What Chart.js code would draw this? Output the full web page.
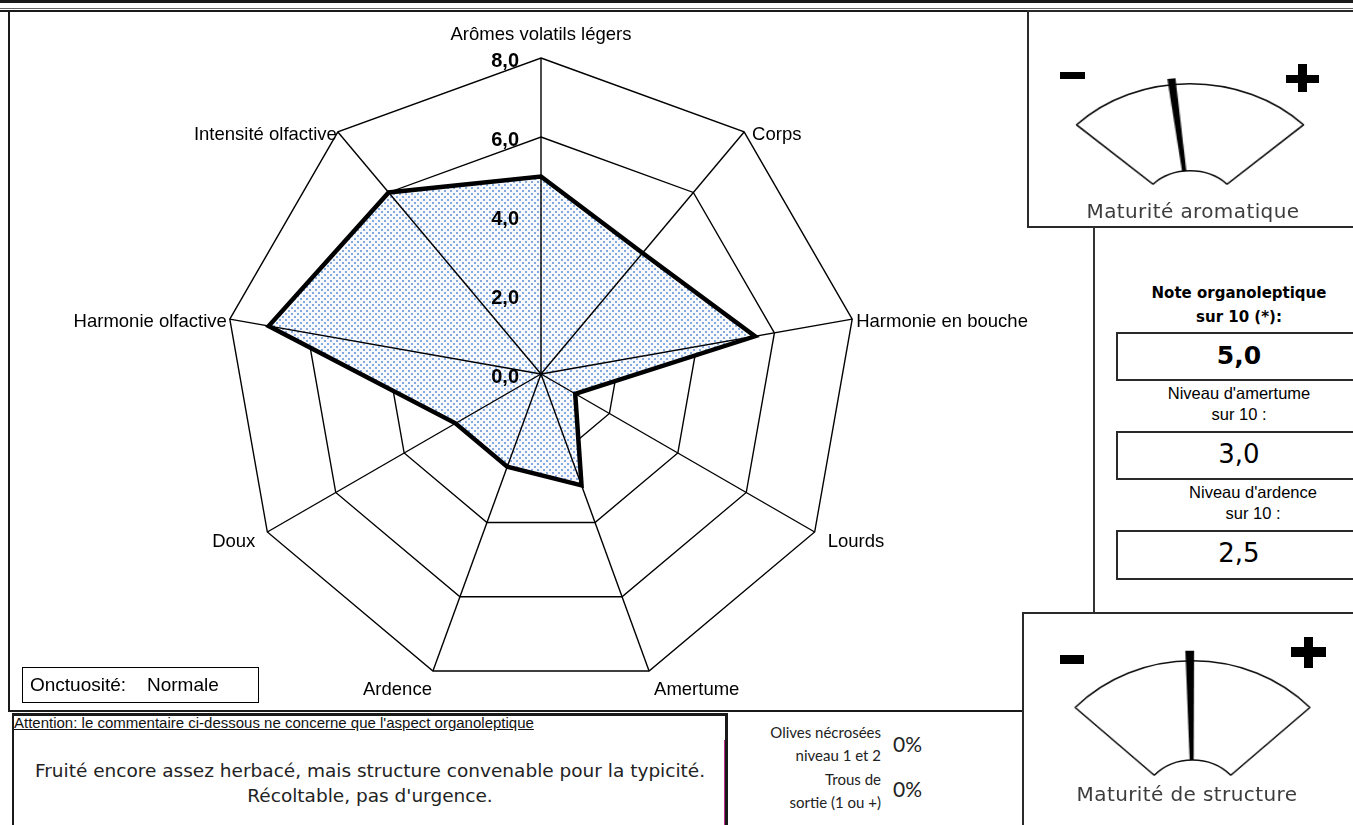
<!DOCTYPE html>
<html lang="fr">
<head>
<meta charset="utf-8">
<title>Profil organoleptique</title>
<script src="https://cdn.jsdelivr.net/npm/chart.js@4.4.1/dist/chart.umd.min.js"></script>
<style>
  html, body { margin: 0; padding: 0; }
  body {
    width: 1353px; height: 825px; overflow: hidden; position: relative;
    background: #fff; color: #000;
    font-family: "Liberation Sans", Arial, sans-serif;
  }
  .abs { position: absolute; }
  .line { position: absolute; background: #1a1a1a; }
  .box { position: absolute; box-sizing: border-box; border: 2px solid #2a2a2a; }
  .center { text-align: center; white-space: nowrap; }
  .gauge-label { font-family: "DejaVu Sans", Verdana, sans-serif; font-size: 20px; color: #3c3c3c; letter-spacing: 0.4px; }
  .verdana { font-family: "DejaVu Sans", Verdana, sans-serif; }
  .calib { font-family: Lato, "Open Sans", sans-serif; color: #222; }
</style>
</head>
<body>

<!-- radar -->
<canvas id="radar" class="abs" width="1080" height="698" style="left:8px;top:12px"></canvas>

<!-- frame -->
<div class="line" style="left:0;top:0;width:1353px;height:3px"></div>
<div class="line" style="left:0;top:8px;width:1353px;height:1px;background:#666"></div>
<div class="line" style="left:0;top:10px;width:1353px;height:2px"></div>
<div class="line" style="left:8px;top:10px;width:2px;height:702px"></div>
<div class="line" style="left:8px;top:710px;width:1015px;height:2px"></div>

<!-- gauge boxes -->
<div class="box" style="left:1027px;top:10px;width:340px;height:218px"></div>
<div class="line" style="left:1093px;top:227px;width:2px;height:386px;background:#333"></div>
<div class="box" style="left:1022px;top:612px;width:345px;height:230px"></div>

<div class="abs" style="left:1090px;top:73px;width:200px;height:116px;transform:scaleX(1.2);transform-origin:50% 50%">
  <canvas id="gauge1" width="200" height="116"></canvas>
</div>
<div class="abs" style="left:1080px;top:646px;width:225px;height:134px;transform:scaleX(1.09);transform-origin:50% 50%">
  <canvas id="gauge2" width="225" height="134"></canvas>
</div>

<div class="line" style="left:1060px;top:72px;width:25px;height:7px;background:#000"></div>
<div class="line" style="left:1286px;top:75px;width:33px;height:8px;background:#000"></div>
<div class="line" style="left:1298px;top:64px;width:9px;height:28px;background:#000"></div>
<div class="line" style="left:1060px;top:655px;width:24px;height:9px;background:#000"></div>
<div class="line" style="left:1291px;top:647px;width:35px;height:10px;background:#000"></div>
<div class="line" style="left:1304px;top:637px;width:9px;height:31px;background:#000"></div>

<div id="gname1" class="abs center gauge-label" style="left:1043px;top:199px;width:300px"></div>
<div id="gname2" class="abs center gauge-label" style="left:1037px;top:782px;width:300px"></div>

<!-- scores -->
<div class="abs center verdana" style="left:1116px;top:281px;width:246px;font-size:15px;font-weight:bold;line-height:24px">Note organoleptique<br>sur 10 (*):</div>
<div class="box" style="left:1116px;top:332px;width:250px;height:49px"></div>
<div id="score0" class="abs center verdana" style="left:1116px;top:341px;width:246px;font-size:25px;font-weight:bold"></div>
<div class="abs center" style="left:1116px;top:383px;width:246px;font-size:16.5px;line-height:21px">Niveau d'amertume<br>sur 10 :</div>
<div class="box" style="left:1116px;top:431px;width:250px;height:49px"></div>
<div id="score1" class="abs center verdana" style="left:1116px;top:439px;width:246px;font-size:26px"></div>
<div class="abs center" style="left:1130px;top:482px;width:246px;font-size:16.5px;line-height:21px">Niveau d'ardence<br>sur 10 :</div>
<div class="box" style="left:1116px;top:530px;width:250px;height:50px"></div>
<div id="score2" class="abs center verdana" style="left:1116px;top:538px;width:246px;font-size:26px"></div>

<!-- onctuosité -->
<div class="box" style="left:22px;top:667px;width:237px;height:36px;border-width:1.5px;border-color:#000"></div>
<div class="abs" style="left:30px;top:674px;font-size:19px;white-space:nowrap">Onctuosité:</div>
<div id="onct" class="abs" style="left:147px;top:674px;font-size:19px;white-space:nowrap"></div>

<!-- comment -->
<div class="abs" style="left:12px;top:713px;width:716px;height:130px;box-sizing:border-box;border-top:3px solid #1a1a1a;border-left:2px solid #1a1a1a;border-right:3px solid #1a1a1a"></div>
<div class="line" style="left:724px;top:740px;width:1px;height:90px;background:#c02a8c"></div>
<div class="abs" style="left:14px;top:714px;font-size:15px;text-decoration:underline;white-space:nowrap;color:#111">Attention: le commentaire ci-dessous ne concerne que l'aspect organoleptique</div>
<div class="abs center verdana" style="left:12px;top:758px;width:716px;font-size:18.5px;line-height:25px;color:#222">Fruité encore assez herbacé, mais structure convenable pour la typicité.<br>Récoltable, pas d'urgence.</div>

<!-- défauts -->
<div class="abs calib" style="left:700px;top:721px;width:181px;text-align:right;font-size:15px;line-height:23.3px">Olives nécrosées<br>niveau 1 et 2<br>Trous de<br>sortie (1 ou +)</div>
<div id="def0" class="abs calib" style="left:893px;top:731px;font-size:21px"></div>
<div id="def1" class="abs calib" style="left:893px;top:776px;font-size:21px"></div>

<script>
const axisLabels = [
    "Arômes volatils légers", "Corps", "Harmonie en bouche", "Lourds", "Amertume",
    "Ardence", "Doux", "Harmonie olfactive", "Intensité olfactive"
];
const profileValues = [5.0, 4.0, 5.5, 1.0, 3.0, 2.5, 2.5, 7.0, 6.0];
const tickValues = [0, 2, 4, 6, 8];
const tickLabels = ["0,0", "2,0", "4,0", "6,0", "8,0"];

const gaugeNames = ["Maturité aromatique", "Maturité de structure"];
const gaugeValues = [4.3, 4.9];   // 0 = "-", 10 = "+"

const scoreValues = [5.0, 3.0, 2.5];
const defectValues = [0, 0];
const onctuosite = "Normale";

// where each axis title sits relative to its outer vertex
const labelNudge = [
    { dx: 0, dy: -18, align: "center" },
    { dx: 8, dy: 8, align: "left" },
    { dx: 4, dy: 8, align: "left" },
    { dx: 13, dy: 15, align: "left" },
    { dx: 5, dy: 24, align: "left" },
    { dx: -1, dy: 24, align: "right" },
    { dx: -12, dy: 15, align: "right" },
    { dx: -3, dy: 8, align: "right" },
    { dx: -1, dy: 8, align: "right" }
];

const fr = v => v.toFixed(1).replace(".", ",");

document.getElementById("gname1").textContent = gaugeNames[0];
document.getElementById("gname2").textContent = gaugeNames[1];
scoreValues.forEach((v, i) => {
    document.getElementById("score" + i).textContent = fr(v);
});
defectValues.forEach((v, i) => {
    document.getElementById("def" + i).textContent = v + "%";
});
document.getElementById("onct").textContent = onctuosite;

const radarCanvas = document.getElementById("radar");

function dotPattern(ctx) {
    const tile = document.createElement("canvas");
    tile.width = 6;
    tile.height = 6;
    const g = tile.getContext("2d");
    g.fillStyle = "#f7f9fd";
    g.fillRect(0, 0, 6, 6);
    g.fillStyle = "#84a9df";
    g.fillRect(1, 1, 2, 2);
    g.fillRect(4, 4, 2, 2);
    return ctx.createPattern(tile, "repeat");
}

// spokes over the fill, then tick values and axis titles
const radarDecor = {
    id: "radarDecor",
    afterDatasetsDraw(chart) {
        const r = chart.scales.r;
        const ctx = chart.ctx;
        ctx.save();
        ctx.strokeStyle = "#000";
        ctx.lineWidth = 1.4;
        axisLabels.forEach((_, i) => {
            const p = r.getPointPosition(i, r.drawingArea);
            ctx.beginPath();
            ctx.moveTo(r.xCenter, r.yCenter);
            ctx.lineTo(p.x, p.y);
            ctx.stroke();
        });
        ctx.restore();
    },
    afterDraw(chart) {
        const r = chart.scales.r;
        const ctx = chart.ctx;
        ctx.save();
        ctx.fillStyle = "#000";

        ctx.font = "bold 20px 'Liberation Sans', Arial, sans-serif";
        ctx.textAlign = "right";
        ctx.textBaseline = "middle";
        tickValues.forEach((v, i) => {
            const y = r.yCenter - r.getDistanceFromCenterForValue(v);
            ctx.fillText(tickLabels[i], r.xCenter - 22, y + 3);
        });

        ctx.font = "18.5px 'Liberation Sans', Arial, sans-serif";
        ctx.textBaseline = "alphabetic";
        axisLabels.forEach((label, i) => {
            const p = r.getPointPosition(i, r.drawingArea);
            const n = labelNudge[i];
            ctx.textAlign = n.align;
            ctx.fillText(label, p.x + n.dx, p.y + n.dy);
        });
        ctx.restore();
    }
};

new Chart(radarCanvas, {
    type: "radar",
    data: {
        labels: axisLabels,
        datasets: [{
            data: profileValues,
            borderColor: "#000",
            borderWidth: 4.5,
            borderJoinStyle: "miter",
            backgroundColor: dotPattern(radarCanvas.getContext("2d")),
            fill: "start",
            pointRadius: 0,
            pointHitRadius: 0,
            tension: 0
        }]
    },
    options: {
        responsive: false,
        animation: false,
        events: [],
        layout: { padding: { left: 217, right: 231, top: 46, bottom: 20 } },
        plugins: {
            legend: { display: false },
            tooltip: { enabled: false }
        },
        scales: {
            r: {
                min: 0,
                max: 8,
                startAngle: 0,
                ticks: { display: false, stepSize: 2 },
                grid: { color: "#000", lineWidth: 1.4, circular: false },
                angleLines: { display: false },
                pointLabels: { display: false }
            }
        }
    },
    plugins: [radarDecor]
});

// needle from inner rim to just past the outer rim
const needle = {
    id: "needle",
    afterDatasetsDraw(chart, args, opts) {
        const arc = chart.getDatasetMeta(0).data[0];
        const a = arc.startAngle + (opts.value / 10) * (arc.endAngle - arc.startAngle);
        const ux = Math.cos(a), uy = Math.sin(a);
        const px = -uy, py = ux;
        const r0 = arc.innerRadius, r1 = arc.outerRadius + opts.reach;
        const ctx = chart.ctx;
        ctx.save();
        ctx.fillStyle = "#000";
        ctx.beginPath();
        ctx.moveTo(arc.x + ux * r0 + px * opts.base, arc.y + uy * r0 + py * opts.base);
        ctx.lineTo(arc.x + ux * r1 + px * opts.tip, arc.y + uy * r1 + py * opts.tip);
        ctx.lineTo(arc.x + ux * r1 - px * opts.tip, arc.y + uy * r1 - py * opts.tip);
        ctx.lineTo(arc.x + ux * r0 - px * opts.base, arc.y + uy * r0 - py * opts.base);
        ctx.closePath();
        ctx.fill();
        ctx.restore();
    }
};

function gauge(id, value, pad, reach, tip) {
    return new Chart(document.getElementById(id), {
        type: "doughnut",
        data: {
            labels: [""],
            datasets: [{
                data: [1],
                backgroundColor: "#fff",
                borderColor: "#111",
                borderWidth: 1.5
            }]
        },
        options: {
            responsive: false,
            animation: false,
            events: [],
            rotation: -47,
            circumference: 94,
            cutout: "32.6%",
            layout: { padding: pad },
            plugins: {
                legend: { display: false },
                tooltip: { enabled: false },
                needle: { value: value, reach: reach, tip: tip, base: 1.8 }
            }
        },
        plugins: [needle]
    });
}

gauge("gauge1", gaugeValues[0], { left: 4, right: 4, top: 10, bottom: 4 }, 6, 3.4);
gauge("gauge2", gaugeValues[1], { left: 4, right: 4, top: 14, bottom: 4 }, 10, 4);
</script>
</body>
</html>
